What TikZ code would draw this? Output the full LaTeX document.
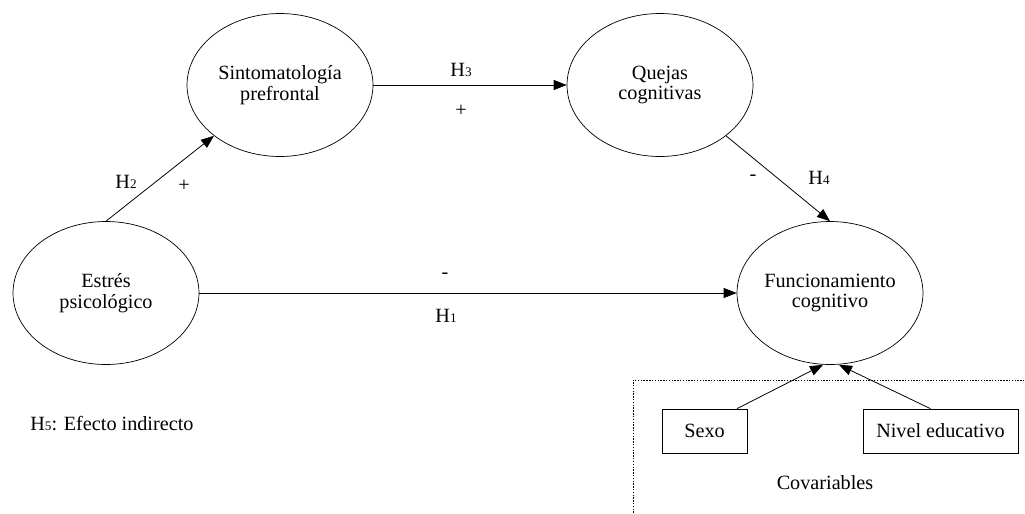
\documentclass[tikz,border=0pt]{standalone}
\usepackage{fontspec}
\setmainfont{Liberation Serif}
\usetikzlibrary{positioning,shapes.geometric,arrows.meta}
\tikzset{
  latent/.style={ellipse, draw=black, minimum width=3.72cm, minimum height=2.86cm, inner sep=0pt, align=center, font=\fontsize{11.5}{11.8}\selectfont},
  obs/.style={rectangle, draw=black, minimum height=0.88cm, inner sep=0pt, font=\fontsize{11.5}{12}\selectfont},
  lbl/.style={inner sep=0pt, font=\fontsize{11.5}{12}\selectfont},
  path/.style={-{Triangle[length=2.6mm,width=2mm]}, line width=0.45pt}
}
\newcommand{\hyp}[1]{H{\fontsize{7.5}{8}\selectfont #1}}

\begin{document}
\begin{tikzpicture}[x=0.02cm, y=-0.02cm]
	\useasboundingbox (0,0) rectangle (1025,514);
	\clip (0,0) rectangle (1025,514);
	% constructs
	\node[latent] (estres) at (106,293) {Estrés\\psicológico};
	\node[latent] (sinto) at (280,85) {Sintomatología\\prefrontal};
	\node[latent] (quejas) at (660,85) {Quejas\\cognitivas};
	\node[latent] (func) at (830,293) {Funcionamiento\\cognitivo};
	
	% covariates
	\draw[dash pattern=on 0.8pt off 0.8pt, line width=0.5pt] (1030,380) -- (633,380) -- (633,520);
	\node[obs, minimum width=1.7cm] (sexo) at (704.5,431) {Sexo};
	\node[obs, minimum width=3.1cm] (nivel) at (940.5,431) {Nivel educativo};
	\node[lbl] (cov) at (825,483) {Covariables};
	
	\draw[path] (estres.north) -- (sinto.south west);
	\draw[path] (sinto.east) -- (quejas.west);
	\draw[path] (quejas.south east) -- (func.north);
	\draw[path] (estres.east) -- (func.west);
	\draw[path] ([xshift=0.65cm]sexo.north) -- ([xshift=-0.14cm]func.south);
	\draw[path] ([xshift=-0.2cm]nivel.north) -- ([xshift=0.18cm]func.south);
	
	% labels
	\node[lbl] (h2) at (126,182) {\hyp{2}};
	\node[lbl] (s2) at (184,186) {+};
	\node[lbl] (h3) at (461,70) {\hyp{3}};
	\node[lbl] (s3) at (461,111) {+};
	\node[lbl] (s4) at (753,178) {-};
	\node[lbl] (h4) at (819,178) {\hyp{4}};
	\node[lbl] (s1) at (445,276) {-};
	\node[lbl] (h1) at (446,316) {\hyp{1}};
	\node[lbl, anchor=west] (h5) at (30,424) {\hyp{5}: Efecto indirecto};
\end{tikzpicture}
\end{document}
